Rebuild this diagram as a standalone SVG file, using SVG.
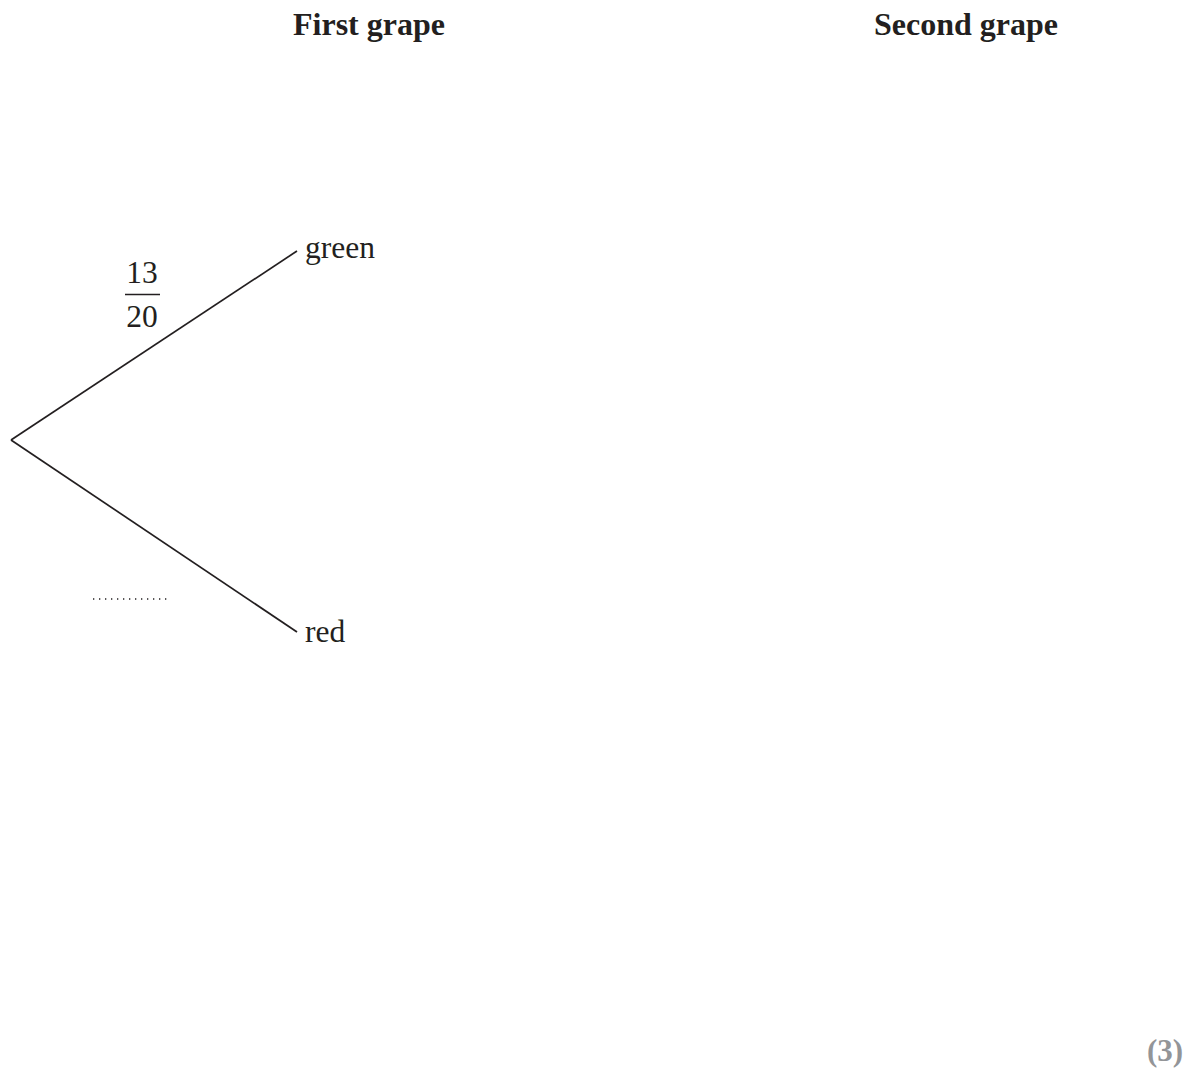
<svg xmlns="http://www.w3.org/2000/svg" width="1187" height="1072" viewBox="0 0 1187 1072">
<style>
text{font-family:"Liberation Serif","Times New Roman",serif;fill:#231f20}
.h{font-weight:bold;font-size:32px}
.t{font-size:31.5px}
.ln{stroke:#231f20;stroke-width:1.7;fill:none}
</style>
<rect width="1187" height="1072" fill="#fff"/>
<g id="headers">
<text class="h" x="293" y="35">First grape</text>
<text class="h" x="874" y="35">Second grape</text>
</g>
<g id="connectors">
<line class="ln" x1="11" y1="440" x2="297" y2="251"/>
<line class="ln" x1="11" y1="440" x2="297" y2="632"/>
</g>
<g id="node-green"><text class="t" x="305" y="258">green</text></g>
<g id="node-red"><text class="t" x="305" y="642">red</text></g>
<g id="prob-green">
<text class="t" x="142" y="283" text-anchor="middle">13</text>
<line x1="125" y1="294.5" x2="160" y2="294.5" stroke="#231f20" stroke-width="1.4"/>
<text class="t" x="142" y="327" text-anchor="middle">20</text>
</g>
<g id="prob-red">
<line x1="93" y1="599" x2="171" y2="599" stroke="#231f20" stroke-width="1.3" stroke-dasharray="1.3 4.7"/>
</g>
<text x="1147" y="1061" style="font-weight:bold;font-size:31px;fill:#939598">(3)</text>
</svg>
